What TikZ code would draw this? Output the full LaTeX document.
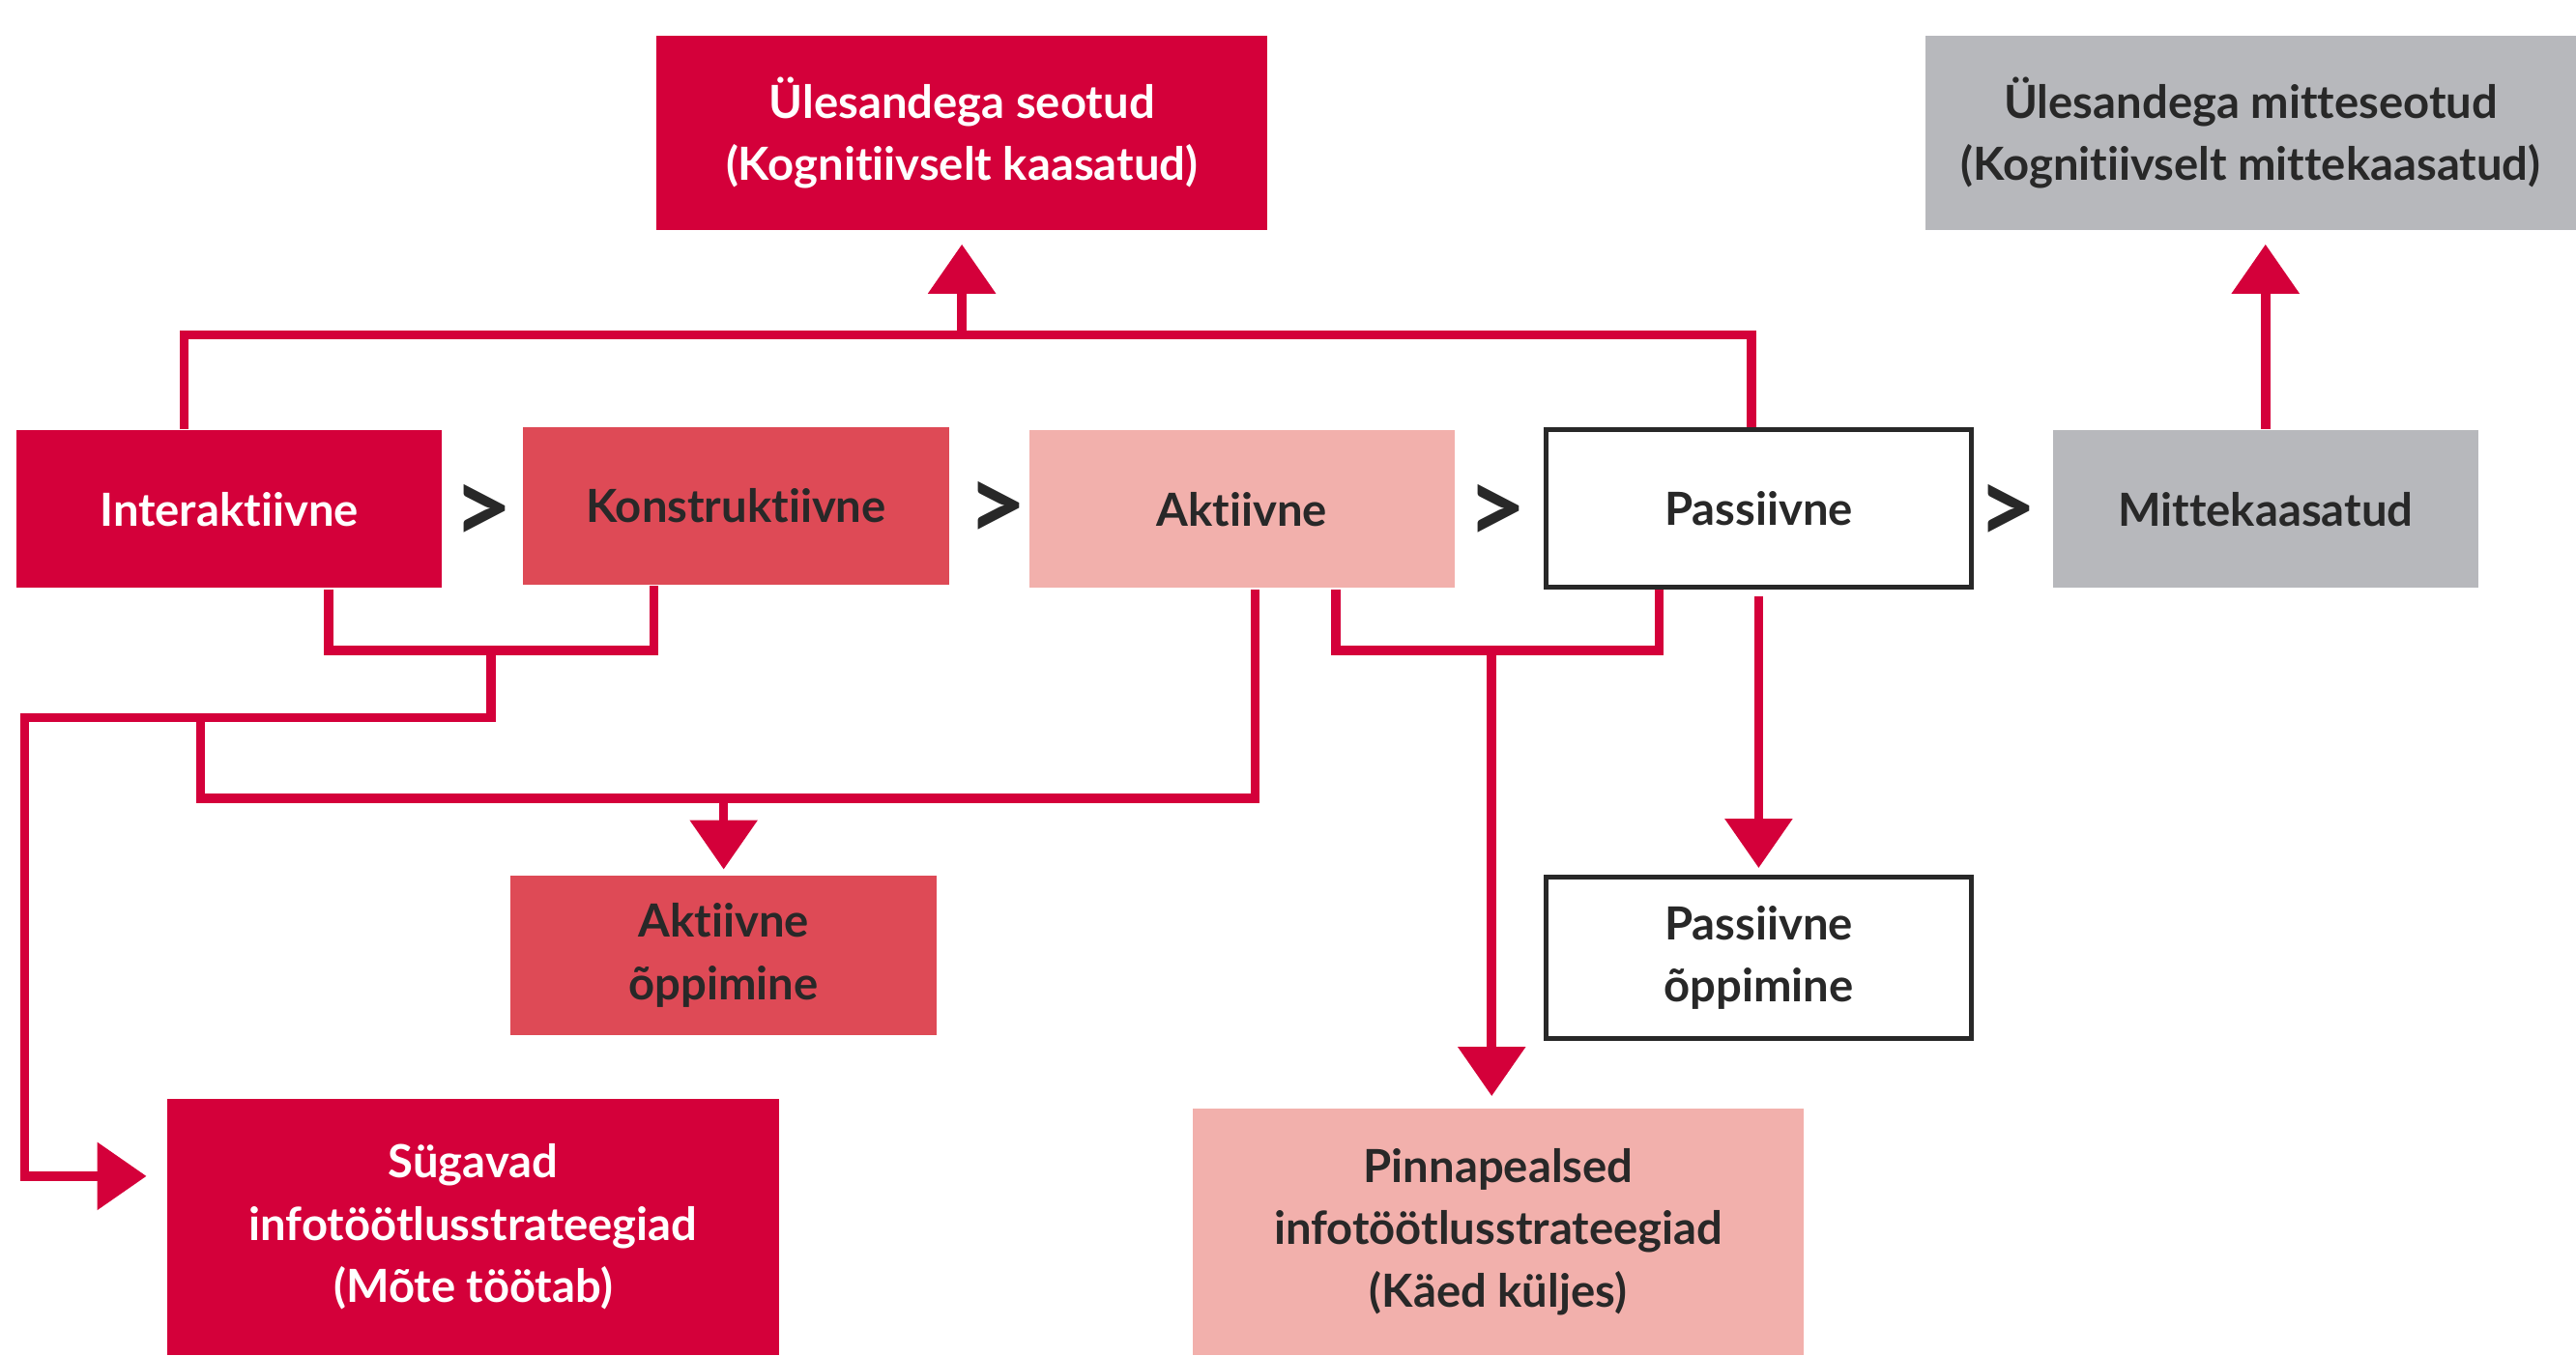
\documentclass[tikz,border=0pt]{standalone}
\usepackage{fontspec}
\setmainfont{Lato}[Ligatures={NoCommon}]
\usetikzlibrary{arrows.meta}
\definecolor{punane}{RGB}{212,0,58}
\definecolor{roosa}{RGB}{222,74,86}
\definecolor{heleroosa}{RGB}{242,176,172}
\definecolor{hall}{RGB}{183,184,188}
\definecolor{tume}{RGB}{40,40,40}
\begin{document}
\begin{tikzpicture}[x=0.01cm,y=-0.01cm,font=\fontsize{7.9}{10.8}\selectfont\bfseries,
	line join=miter,
	kast/.style={inner sep=0,align=center,text=tume},
	rida/.style={kast,minimum width=2.59cm,minimum height=0.96cm},
	lai/.style={kast,minimum width=3.72cm},
	valge/.style={draw=tume,line width=0.9pt,fill=white},
	lin/.style={draw=punane,line width=1.6pt},
	nool/.style={lin,-{Triangle[width=0.4cm,length=0.3cm]}},
	suurem/.style={inner sep=0,text=tume,font=\fontsize{18}{18}\selectfont\bfseries}]
	\useasboundingbox (0,0) rectangle (1568,825);
	% ylemised kastid
	\path (585.5,81) node[lai,fill=punane,text=white,minimum height=1.18cm](seot)
	{Ülesandega seotud\\(Kognitiivselt kaasatud)}
	(1370,81) node[kast,fill=hall,minimum width=3.96cm,minimum height=1.18cm](mseot)
	{Ülesandega mitteseotud\\(Kognitiivselt mittekaasatud)};
	% keskmine rida
	\path (139.5,310) node[rida,fill=punane,text=white](inter){Interaktiivne}
	(448,308) node[rida,fill=roosa](konstr){Konstruktiivne}
	(756,310) node[rida,fill=heleroosa](akt){Aktiivne}
	(1070.5,309.5) node[rida,valge](pass){Passiivne}
	(1379,310) node[rida,fill=hall](mitte){Mittekaasatud};
	\path (294,313) node[suurem](gt1){>}
	(607,311) node[suurem](gt2){>}
	(911,313) node[suurem](gt3){>}
	(1222,313) node[suurem](gt4){>};
	% alumised kastid
	\path (440.5,581.5) node[rida,fill=roosa,minimum height=0.97cm](aopp){Aktiivne\\õppimine}
	(1070.5,583) node[rida,valge,minimum height=0.98cm](popp){Passiivne\\õppimine}
	(288,747) node[lai,fill=punane,text=white,minimum height=1.56cm](syg)
	{Sügavad\\infotöötlusstrateegiad\\(Mõte töötab)}
	(912,750) node[lai,fill=heleroosa,minimum height=1.5cm](pinna)
	{Pinnapealsed\\infotöötlusstrateegiad\\(Käed küljes)};
	% jooned
	\coordinate (yL) at (112,204);
	\coordinate (yR) at (1066,204);
	\draw[lin] (inter.north -| yL)--(yL)--(yR)--(pass.north -| yR);
	\draw[nool,shorten >=0.08cm] (seot.south |- yL)--(seot.south);
	\draw[nool,shorten >=0.08cm] (mitte.north)--(mitte.north |- mseot.south);
	\coordinate (k1) at (200,396);
	\coordinate (k2) at (398,396);
	\coordinate (k3) at (299,396);
	\coordinate (k4) at (299,437);
	\coordinate (k5) at (15,437);
	\coordinate (k6) at (15,716);
	\draw[lin] (inter.south -| k1)--(k1)--(k2)--(konstr.south -| k2);
	\draw[nool,shorten >=0.12cm] (k3)--(k4)--(k5)--(k6)--(syg.west |- k6);
	\coordinate (a1) at (122,437);
	\coordinate (a2) at (122,486);
	\coordinate (a3) at (764,486);
	\coordinate (a4) at (440.5,486);
	\draw[lin] (a1)--(a2)--(a3)--(akt.south -| a3);
	\draw[nool,shorten >=0.03cm] (a4)--(aopp.north);
	\coordinate (p1) at (813,396);
	\coordinate (p2) at (1010,396);
	\coordinate (p3) at (908,396);
	\draw[lin] (akt.south -| p1)--(p1)--(p2)--(pass.south -| p2);
	\draw[nool,shorten >=0.07cm] (p3)--(pinna.north -| p3);
	\draw[nool,shorten <=0.04cm,shorten >=0.04cm] (pass.south)--(popp.north);
\end{tikzpicture}
\end{document}
